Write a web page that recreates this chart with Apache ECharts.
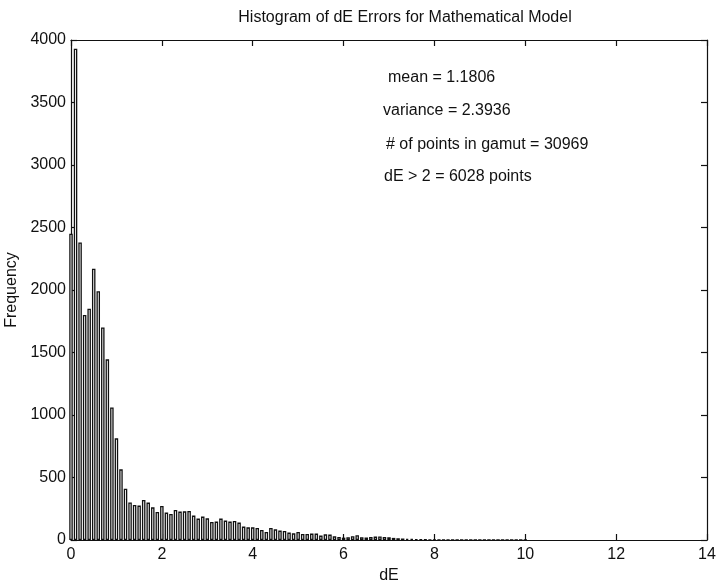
<!DOCTYPE html>
<html>
<head>
<meta charset="utf-8">
<script src="https://cdn.jsdelivr.net/npm/echarts@6/dist/echarts.min.js"></script>
<style>
  html, body { margin: 0; padding: 0; background: #fff; }
  #chart { width: 717px; height: 582px; }
</style>
</head>
<body>
<div id="chart"></div>
<script>
// Histogram bins: centres start at binStart and step by binWidth (dE units)
const binStart = 0;
const binWidth = 0.1;

// Counts per bin
const frequencies = [
  2450, 3930, 2380, 1800, 1850, 2170, 1990, 1700, 1445, 1060,
  813, 565, 410, 300, 280, 275, 320, 299, 261, 224,
  272, 219, 208, 240, 227, 229, 232, 195, 171, 187,
  173, 144, 147, 171, 155, 147, 152, 139, 107, 101,
  101, 96, 80, 64, 96, 85, 75, 72, 59, 53,
  64, 48, 48, 51, 51, 35, 45, 43, 29, 24,
  19, 22, 30, 38, 22, 20, 24, 27, 28, 24,
  21, 17, 14, 12, 10, 8, 7, 5, 4, 3,
  3, 2, 2, 2, 1, 1, 1, 1, 1, 0,
  1, 1, 0, 1, 0, 0, 1, 0, 1, 0, 1
];

const xTicks = [0, 2, 4, 6, 8, 10, 12, 14];
const yTicks = [0, 500, 1000, 1500, 2000, 2500, 3000, 3500, 4000];

const titleText = 'Histogram of dE Errors for Mathematical Model';
const xName = 'dE';
const yName = 'Frequency';
const statsLines = [
  'mean = 1.1806',
  'variance = 2.3936',
  '# of points in gamut = 30969',
  'dE > 2 = 6028 points'
];

const FONT = '"Liberation Sans", Arial, sans-serif';
const INK = '#111';
const FS = 16;

const histData = frequencies.map((f, i) => [binStart + i * binWidth, f]);

const chart = echarts.init(document.getElementById('chart'), null, { renderer: 'canvas' });

function makeAxis(extra) {
  return Object.assign({
    type: 'value',
    axisLine: { show: true, onZero: false, lineStyle: { color: INK, width: 1.2 } },
    axisTick: { show: true, inside: true, length: 6, lineStyle: { color: INK, width: 1.2 } },
    splitLine: { show: false },
  }, extra);
}

const labelStyle = {
  fontFamily: FONT, fontSize: FS, color: INK,
  formatter: v => String(v)
};

chart.setOption({
  animation: false,
  backgroundColor: '#fff',
  title: {
    text: titleText,
    left: 400, top: 5,
    textAlign: 'center',
    textStyle: { fontFamily: FONT, fontSize: FS, fontWeight: 'normal', color: INK }
  },
  grid: { left: 71, right: 10, top: 40, bottom: 42, outerBoundsMode: 'none', containLabel: false },
  xAxis: [
    makeAxis({
      min: xTicks[0], max: xTicks[xTicks.length - 1], interval: 2,
      position: 'bottom',
      name: xName, nameLocation: 'middle', nameGap: 25,
      nameTextStyle: { fontFamily: FONT, fontSize: FS, color: INK },
      axisLabel: Object.assign({ margin: 7 }, labelStyle)
    }),
    makeAxis({
      min: xTicks[0], max: xTicks[xTicks.length - 1], interval: 2,
      position: 'top',
      axisLabel: { show: false }
    })
  ],
  yAxis: [
    makeAxis({
      min: yTicks[0], max: yTicks[yTicks.length - 1], interval: 500,
      position: 'left',
      name: yName, nameLocation: 'middle', nameGap: 34, nameRotate: 90,
      nameTextStyle: { fontFamily: FONT, fontSize: FS, color: INK },
      axisLabel: Object.assign({ margin: 5 }, labelStyle)
    }),
    makeAxis({
      min: yTicks[0], max: yTicks[yTicks.length - 1], interval: 500,
      position: 'right',
      axisLabel: { show: false }
    })
  ],
  series: [{
    type: 'bar',
    xAxisIndex: 0,
    yAxisIndex: 0,
    data: histData,
    barWidth: 3.5,
    clip: true,
    itemStyle: { color: '#fff', borderColor: INK, borderWidth: 1.3 }
  }],
  graphic: statsLines.map((t, i) => ({
    type: 'text',
    left: [388, 383, 386, 384][i],
    top: [70, 103, 137, 169][i],
    style: { text: t, font: FS + 'px ' + FONT, fill: INK }
  }))
});
</script>
</body>
</html>
